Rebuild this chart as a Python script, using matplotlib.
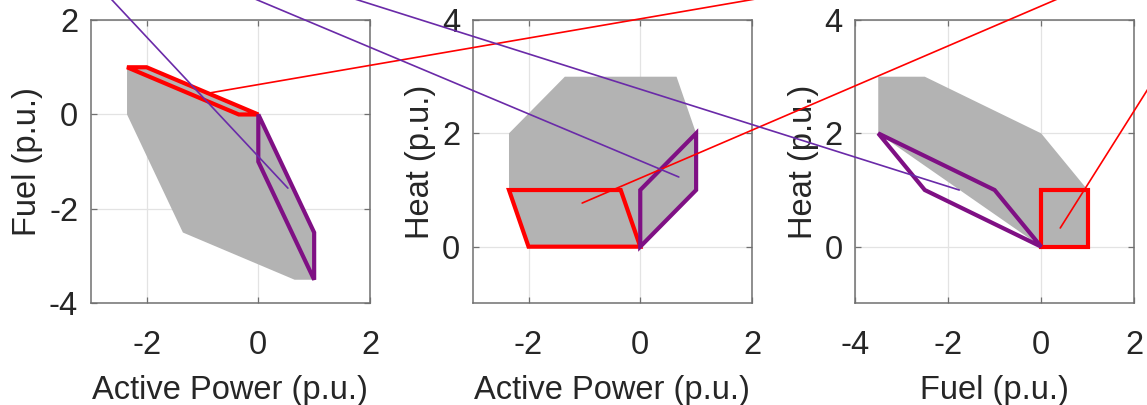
import matplotlib
matplotlib.use("Agg")
import matplotlib.pyplot as plt
from matplotlib.patches import Polygon, ConnectionPatch

plt.rcParams["font.family"] = ["Liberation Sans", "DejaVu Sans"]

# Vertices of the two units in (active power, fuel, heat), p.u.
red_P = [0, -2, -2.35, -0.35]
red_F = [0, 1, 1, 0]
red_H = [0, 0, 1, 1]

purple_P = [0, 0, 1, 1]
purple_F = [0, -1, -3.5, -2.5]
purple_H = [0, 1, 2, 1]

# Aggregated feasible region projected on each plane
agg_PF_x = [-2.35, -2, 0, 1, 1, 0.65, -1.35, -2.35]
agg_PF_y = [1, 1, 0, -2.5, -3.5, -3.5, -2.5, 0]
agg_PH_x = [-2.35, -2.35, -1.35, 0.65, 1, 1, 0, -2]
agg_PH_y = [1, 2, 3, 3, 2, 1, 0, 0]
agg_FH_x = [-3.5, -3.5, -2.5, 0, 1, 1, 0]
agg_FH_y = [2, 3, 3, 2, 1, 0, 0]

x_labels = ["Active Power (p.u.)", "Active Power (p.u.)", "Fuel (p.u.)"]
y_labels = ["Fuel (p.u.)", "Heat (p.u.)", "Heat (p.u.)"]
x_limits = [(-3, 2), (-3, 2), (-4, 2)]
y_limits = [(-4, 2), (-1, 4), (-1, 4)]
x_ticks = [[-2, 0, 2], [-2, 0, 2], [-4, -2, 0, 2]]
y_ticks = [[-4, -2, 0, 2], [0, 2, 4], [0, 2, 4]]

# Leader lines: panel, anchor (data), colour, far end (figure pixels)
lead_panel = [0, 1, 2, 0, 1, 2]
lead_x = [-0.90, -1.04, 0.41, 0.53, 0.69, -1.76]
lead_y = [0.45, 0.77, 0.33, -1.56, 1.23, 1.00]
lead_color = ["red", "red", "red", "#6a2aa8", "#6a2aa8", "#6a2aa8"]
lead_end = [(924, 435), (1125, 435), (1223, 435), (84, 435), (186, 435), (263, 435)]

GRAY = "#b3b3b3"
RED = "#ff0000"
PURPLE = "#7f1084"
TEXT = "#262626"
FS = 23.5

fig = plt.figure(figsize=(11.47, 4.05), dpi=100)
lefts = [0.0791, 0.4121, 0.7454]
axes = [fig.add_axes([l, 0.251, 0.2435, 0.6995]) for l in lefts]

proj = [
    (red_P, red_F, purple_P, purple_F, agg_PF_x, agg_PF_y),
    (red_P, red_H, purple_P, purple_H, agg_PH_x, agg_PH_y),
    (red_F, red_H, purple_F, purple_H, agg_FH_x, agg_FH_y),
]

fmt = plt.FuncFormatter(lambda v, p: f"{v:g}")

for i, ax in enumerate(axes):
    rx, ry, px, py, gx, gy = proj[i]
    ax.add_patch(Polygon(list(zip(gx, gy)), closed=True, facecolor=GRAY,
                         edgecolor="none", zorder=1))
    ax.add_patch(Polygon(list(zip(rx, ry)), closed=True, fill=False,
                         edgecolor=RED, lw=3.0, joinstyle="miter", zorder=3))
    ax.add_patch(Polygon(list(zip(px, py)), closed=True, fill=False,
                         edgecolor=PURPLE, lw=3.0, joinstyle="miter", zorder=3))
    ax.set_xlim(*x_limits[i])
    ax.set_ylim(*y_limits[i])
    ax.set_xticks(x_ticks[i])
    ax.set_yticks(y_ticks[i])
    ax.xaxis.set_major_formatter(fmt)
    ax.yaxis.set_major_formatter(fmt)
    ax.grid(True, color="#e3e3e3", lw=0.9, zorder=0)
    ax.set_axisbelow(True)
    for s in ax.spines.values():
        s.set_color("#707070")
        s.set_linewidth(1.1)
    ax.tick_params(axis="both", direction="in", top=True, right=True,
                   length=4, width=0.9, color="#707070", labelsize=FS,
                   labelcolor=TEXT)
    ax.tick_params(axis="x", pad=19)
    ax.tick_params(axis="y", pad=9)
    ax.set_xlabel(x_labels[i], fontsize=FS, color=TEXT, labelpad=10)
    ax.set_ylabel(y_labels[i], fontsize=FS, color=TEXT, labelpad=4)

# Leader lines live on the figure so they run across all panels
for k in range(len(lead_x)):
    ax = axes[lead_panel[k]]
    con = ConnectionPatch(xyA=(lead_x[k], lead_y[k]), coordsA=ax.transData,
                          xyB=lead_end[k], coordsB="figure pixels",
                          color=lead_color[k], lw=1.2, zorder=10)
    con.set_clip_on(False)
    fig.add_artist(con)

fig.savefig("out.png", dpi=100)
